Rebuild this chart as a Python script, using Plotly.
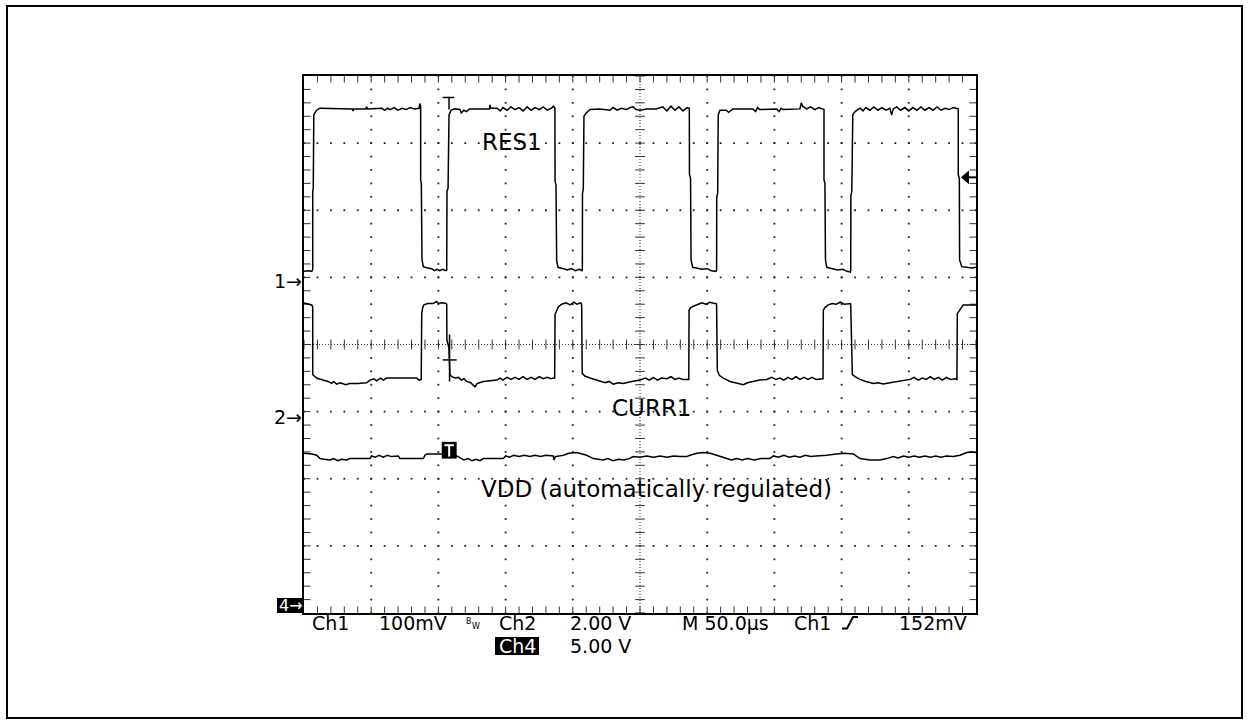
import numpy as np
import plotly.graph_objects as go

# ---------------- data (time in microseconds, amplitude in screen divisions) -------------
RES1_T = [0, 3.0, 5.8, 6.3, 6.5, 6.5, 6.9, 7.3, 8.5, 9.4, 11.9, 20, 28, 36.0, 36.5, 37.0, 46.0, 46.6, 47.2,
          58, 60, 62, 64, 67, 70, 73, 76, 79, 82, 85.6, 86.2,
          86.8, 86.8, 87.3, 87.8, 88.8, 92, 95, 97, 99, 101, 103, 105.5, 106.2,
          106.4, 107.2, 107.9, 109.4, 112, 116, 117, 119, 121, 123, 131, 138, 138.4, 139, 143.6, 146, 148, 151,
          154, 157, 160, 163, 166, 169, 172, 175, 178, 181, 184, 185.5, 186.4,
          186.7, 186.8, 187.5, 188.0, 189.0, 193, 196, 199, 202, 205, 206.8,
          207.1, 207.2, 207.8, 208.3, 210, 212.8, 220, 227.7, 230, 233, 236, 240, 242.6, 245, 247, 250, 255,
          262, 267, 270, 273, 276, 279, 282, 285, 286.4,
          286.7, 286.8, 287.6, 288.0, 289.2, 292, 296, 300, 303, 306.5,
          307.0, 307.1, 307.8, 308.2, 309.5, 314, 316, 318, 319, 334, 336, 337.5, 339, 351.7, 353.5, 355, 356.4,
          369, 370, 371, 374, 377, 380, 383, 386.4,
          386.9, 386.9, 387.6, 388.0, 389.0, 393, 397, 401, 404, 406.5,
          406.8, 406.9, 407.6, 408.3, 410, 413.7, 416, 418, 421, 424, 427, 430, 433, 436, 437.2, 438.5, 441,
          444, 447, 450, 453, 456, 459, 462, 465, 468, 471, 474, 477, 480, 483, 485, 486.5,
          486.8, 486.8, 487.6, 487.8, 489.4, 493, 497, 500]
RES1_V = [1.09, 1.10, 1.09, 1.11, 1.12, 2.28, 2.33, 3.42, 3.46, 3.49, 3.52, 3.52, 3.52, 3.51, 3.48, 3.51, 3.51, 3.54, 3.51,
          3.52, 3.49, 3.52, 3.50, 3.53, 3.49, 3.52, 3.50, 3.53, 3.51, 3.52, 3.59,
          3.55, 2.45, 2.40, 1.26, 1.16, 1.14, 1.13, 1.10, 1.12, 1.10, 1.12, 1.10, 1.11,
          2.28, 2.33, 3.42, 3.49, 3.51, 3.50, 3.45, 3.49, 3.47, 3.51, 3.51, 3.51, 3.57, 3.52, 3.52, 3.48, 3.53, 3.49,
          3.54, 3.50, 3.53, 3.48, 3.54, 3.49, 3.53, 3.50, 3.54, 3.49, 3.52, 3.55, 3.53,
          3.52, 2.43, 2.38, 1.25, 1.15, 1.13, 1.11, 1.13, 1.10, 1.12, 1.10,
          1.12, 2.25, 2.31, 3.40, 3.45, 3.50, 3.51, 3.49, 3.53, 3.49, 3.52, 3.50, 3.53, 3.54, 3.50, 3.49, 3.51,
          3.51, 3.54, 3.48, 3.55, 3.49, 3.54, 3.48, 3.53, 3.53,
          3.52, 2.53, 2.48, 1.26, 1.15, 1.14, 1.12, 1.13, 1.10, 1.09,
          1.11, 2.20, 2.25, 3.42, 3.49, 3.49, 3.46, 3.49, 3.51, 3.51, 3.47, 3.53, 3.50, 3.51, 3.47, 3.52, 3.50,
          3.51, 3.60, 3.55, 3.51, 3.54, 3.50, 3.53, 3.51,
          3.50, 2.45, 2.40, 1.26, 1.15, 1.13, 1.11, 1.12, 1.09, 1.08,
          1.10, 2.22, 2.28, 3.42, 3.47, 3.52, 3.48, 3.53, 3.49, 3.54, 3.49, 3.53, 3.49, 3.52, 3.42, 3.51, 3.54,
          3.49, 3.53, 3.48, 3.53, 3.49, 3.54, 3.49, 3.53, 3.49, 3.54, 3.49, 3.52, 3.50, 3.53, 3.52, 3.51,
          3.51, 2.53, 2.48, 1.26, 1.16, 1.15, 1.14, 1.15]

CURR1_T = [0, 3.0, 5.7, 6.3, 6.5, 6.5, 9.4, 14.1, 17.9, 20.6, 22, 24.3, 27, 31, 34, 40, 46.6, 49.1, 52, 54, 57, 59,
           61.5, 72, 83.8, 85.5, 87.2, 87.6, 88.3, 89.3, 92, 96, 98.7, 100, 103, 105.7,
           106.2, 106.3, 107.8, 108.6, 110, 112.4, 115, 117, 119, 121, 124, 127.2, 129, 133.4, 138, 143.4, 146, 148,
           151, 154, 157, 160, 163, 166, 169, 172, 175, 178, 181, 184, 185.5, 186.5,
           186.8, 189.2, 191.7, 195, 198, 201, 203, 205.9, 206.4,
           206.6, 207.0, 209, 212.8, 216, 220.2, 224, 227, 230.1, 234, 237.6, 242, 246, 250, 254, 257, 260, 263,
           266, 270, 273, 276, 279, 282, 284.7, 286.3,
           286.5, 287.7, 289.7, 293.4, 296, 299, 302, 305.3, 306.8,
           307.0, 307.5, 309, 312, 317, 322, 326.9, 330, 334.4, 339, 344.3, 348, 351, 354, 357, 360, 363, 366,
           369, 372, 375, 378, 381, 385.2, 386.2,
           386.4, 387.6, 390.1, 393, 396, 399, 402, 405.8, 406.6,
           406.8, 408.0, 410, 413.7, 418, 423.6, 427, 431.1, 436, 441, 446, 450.9, 454, 457, 460, 463, 466, 469,
           472, 475, 478, 481, 484.4, 485.8,
           486.1, 487.6, 490.5, 495, 500]
CURR1_V = [0.62, 0.61, 0.59, 0.57, 0.54, -0.45, -0.50, -0.53, -0.55, -0.58, -0.55, -0.59, -0.57, -0.60, -0.58, -0.58,
           -0.57, -0.53, -0.51, -0.54, -0.50, -0.53, -0.50, -0.50, -0.50, -0.53, -0.52, 0.46, 0.55, 0.59, 0.61, 0.61,
           0.64, 0.61, 0.62, 0.61,
           0.60, 0.07, -0.05, -0.45, -0.48, -0.50, -0.49, -0.53, -0.51, -0.55, -0.57, -0.63, -0.58, -0.55, -0.54,
           -0.53, -0.50, -0.53, -0.49, -0.52, -0.49, -0.52, -0.48, -0.52, -0.49, -0.52, -0.48, -0.51, -0.49, -0.51,
           -0.50, -0.50,
           0.45, 0.56, 0.60, 0.62, 0.59, 0.63, 0.60, 0.62, 0.61,
           0.58, -0.43, -0.47, -0.50, -0.52, -0.55, -0.57, -0.55, -0.59, -0.57, -0.58, -0.56, -0.55, -0.53, -0.50,
           -0.53, -0.49, -0.53, -0.50, -0.51, -0.48, -0.52, -0.50, -0.52, -0.52, -0.52,
           0.51, 0.55, 0.57, 0.60, 0.62, 0.60, 0.63, 0.61, 0.61,
           0.58, -0.38, -0.46, -0.50, -0.55, -0.57, -0.60, -0.57, -0.55, -0.53, -0.52, -0.49, -0.52, -0.50, -0.53,
           -0.49, -0.52, -0.48, -0.52, -0.49, -0.52, -0.49, -0.52, -0.52, -0.51,
           0.51, 0.55, 0.59, 0.61, 0.60, 0.63, 0.60, 0.61, 0.61,
           0.58, -0.45, -0.48, -0.52, -0.55, -0.58, -0.57, -0.59, -0.57, -0.55, -0.53, -0.52, -0.49, -0.53, -0.50,
           -0.52, -0.48, -0.52, -0.49, -0.53, -0.49, -0.52, -0.51, -0.52,
           0.46, 0.51, 0.59, 0.59, 0.59]

VDD_T = [0, 3.2, 6, 9.4, 11.9, 15, 19.3, 22, 25, 28, 31.7, 34.2, 49.1, 50.3, 53, 56, 59, 62, 65, 70.2, 71.4, 88.8,
         90, 91.3, 102.5, 113.6, 117.3, 119, 122, 125, 128, 131, 133.4, 148.3, 150, 153, 156, 160, 164, 168, 172,
         176, 180, 185.5, 186, 187, 193, 197, 202.9, 206, 210.3, 215.3, 219, 222.7, 226, 230, 234, 238, 242, 245,
         250, 255, 260, 265, 270, 275, 280, 284.7, 287.2, 292.2, 297, 302.1, 307, 314.5, 318, 322, 326, 330, 335,
         340, 346.7, 349.2, 353, 357, 361, 365, 369, 373, 377, 381, 384, 388.9, 396.3, 402, 408.7, 413.7, 421.1,
         428.6, 433.6, 438.5, 442, 446, 450, 454, 458, 462, 466, 470, 474, 478, 483.1, 488.1, 493.1, 496, 500]
VDD_V = [-1.62, -1.62, -1.63, -1.65, -1.70, -1.71, -1.72, -1.70, -1.73, -1.71, -1.72, -1.70, -1.70, -1.66, -1.68,
         -1.65, -1.68, -1.65, -1.67, -1.66, -1.70, -1.70, -1.65, -1.63, -1.63, -1.66, -1.70, -1.72, -1.70, -1.73,
         -1.71, -1.73, -1.70, -1.70, -1.66, -1.68, -1.65, -1.67, -1.65, -1.67, -1.65, -1.67, -1.65, -1.66, -1.72,
         -1.67, -1.65, -1.62, -1.61, -1.63, -1.65, -1.70, -1.71, -1.72, -1.70, -1.73, -1.71, -1.72, -1.70, -1.67,
         -1.68, -1.66, -1.68, -1.66, -1.68, -1.66, -1.67, -1.67, -1.65, -1.62, -1.61, -1.62, -1.65, -1.70, -1.72,
         -1.70, -1.72, -1.70, -1.72, -1.70, -1.70, -1.66, -1.68, -1.65, -1.68, -1.66, -1.68, -1.65, -1.67, -1.66,
         -1.66, -1.65, -1.63, -1.62, -1.63, -1.70, -1.72, -1.72, -1.70, -1.67, -1.69, -1.66, -1.68, -1.66, -1.68,
         -1.66, -1.68, -1.66, -1.68, -1.66, -1.67, -1.65, -1.61, -1.60, -1.61]

TRACE_LABELS = ["RES1", "CURR1", "VDD (automatically regulated)"]
LABEL_T = [154.4, 258.6, 262.3]
LABEL_V = [3.02, -0.95, -2.15]

CH_MARKERS = ["1\u2192", "2\u2192"]
CH_MARKER_V = [0.94, -1.08]

TRIG_TIME = 107.9      # trigger position (us)
TRIG_LEVEL = 2.49      # trigger level (div)

READOUT_ROW1 = ["Ch1", "100mV", "Ch2", "2.00 V", "M 50.0\u00b5s", "Ch1", "152mV"]
READOUT_ROW1_X = [330, 413, 517, 600, 725, 812, 933]
READOUT_ROW2 = ["5.00 V"]
READOUT_ROW2_X = [600]

# ---------------- geometry ----------------
W, H = 1250, 723
PL, PR, PT, PB = 304, 976, 76, 613
T_MAX, DIVS_X, DIVS_Y = 500.0, 10, 8


def px(x):
    return (x - PL) / (PR - PL)


def py(y):
    return (PB - y) / (PB - PT)


fig = go.Figure()

# graticule dots on major division lines
gx, gy = [], []
for k in range(1, DIVS_X):
    if k == 5:
        continue
    for yy in np.arange(-4, 4.001, 0.2):
        gx.append(k * 50.0)
        gy.append(yy)
for j in range(-3, 4):
    if j == 0:
        continue
    for xx in np.arange(0, 500.001, 10):
        gx.append(xx)
        gy.append(float(j))
fig.add_trace(go.Scatter(x=gx, y=gy, mode="markers", hoverinfo="skip",
                         marker=dict(symbol="square", size=1.8, color="#222", line=dict(width=0))))

# centre lines: dense dots + cross ticks
fig.add_trace(go.Scatter(x=[250, 250], y=[-4, 4], mode="lines", hoverinfo="skip",
                         line=dict(color="#333", width=1, dash="1px,2px")))
fig.add_trace(go.Scatter(x=[0, 500], y=[0, 0], mode="lines", hoverinfo="skip",
                         line=dict(color="#333", width=1, dash="1px,2px")))
cy = [v for v in np.arange(-4, 4.001, 0.2)]
fig.add_trace(go.Scatter(x=[250] * len(cy), y=cy, mode="markers", hoverinfo="skip",
                         marker=dict(symbol="line-ew", size=7, line=dict(width=1, color="#333"))))
cx = [v for v in np.arange(0, 500.001, 10)]
fig.add_trace(go.Scatter(x=cx, y=[0] * len(cx), mode="markers", hoverinfo="skip",
                         marker=dict(symbol="line-ns", size=7, line=dict(width=1, color="#333"))))

# border ticks (inside)
dy = 3.0 / (PB - PT) * DIVS_Y
dx = 3.0 / (PR - PL) * T_MAX
ex = [v for v in np.arange(10, 500, 10)]
ey = [v for v in np.arange(-3.8, 3.81, 0.2)]
fig.add_trace(go.Scatter(x=ex + ex, y=[4 - dy] * len(ex) + [-4 + dy] * len(ex), mode="markers",
                         hoverinfo="skip",
                         marker=dict(symbol="line-ns", size=5, line=dict(width=1, color="#333"))))
fig.add_trace(go.Scatter(x=[dx] * len(ey) + [500 - dx] * len(ey), y=ey + ey, mode="markers",
                         hoverinfo="skip",
                         marker=dict(symbol="line-ew", size=5, line=dict(width=1, color="#333"))))

# waveforms
for tt, vv in [(RES1_T, RES1_V), (CURR1_T, CURR1_V), (VDD_T, VDD_V)]:
    fig.add_trace(go.Scatter(x=tt, y=vv, mode="lines", hoverinfo="skip",
                             line=dict(color="black", width=1.5)))

shapes = []
# trigger "T" on RES1
shapes.append(dict(type="line", xref="x", yref="y", x0=TRIG_TIME - 4.7, x1=TRIG_TIME + 3.9,
                   y0=3.68, y1=3.68, line=dict(color="black", width=1.5)))
shapes.append(dict(type="line", xref="x", yref="y", x0=TRIG_TIME, x1=TRIG_TIME,
                   y0=3.68, y1=3.50, line=dict(color="black", width=1.5)))
# cross on CURR1
shapes.append(dict(type="line", xref="x", yref="y", x0=TRIG_TIME - 4.7, x1=TRIG_TIME + 5.7,
                   y0=-0.23, y1=-0.23, line=dict(color="black", width=1.5)))
shapes.append(dict(type="line", xref="x", yref="y", x0=TRIG_TIME + 0.4, x1=TRIG_TIME + 0.4,
                   y0=0.15, y1=-0.55, line=dict(color="black", width=1.5)))
# black T box on VDD
shapes.append(dict(type="rect", xref="x", yref="y", x0=TRIG_TIME - 5.4, x1=TRIG_TIME + 5.7,
                   y0=-1.70, y1=-1.45, fillcolor="black", line=dict(width=0)))
shapes.append(dict(type="line", xref="x", yref="y", x0=TRIG_TIME - 3.4, x1=TRIG_TIME + 3.6,
                   y0=-1.50, y1=-1.50, line=dict(color="white", width=2)))
shapes.append(dict(type="line", xref="x", yref="y", x0=TRIG_TIME + 0.1, x1=TRIG_TIME + 0.1,
                   y0=-1.50, y1=-1.67, line=dict(color="white", width=2)))
# trigger level arrow on right edge
shapes.append(dict(type="path", xref="x", yref="y",
                   path=f"M 489.3,{TRIG_LEVEL} L 494.4,{TRIG_LEVEL + 0.09} L 494.4,{TRIG_LEVEL - 0.09} Z",
                   fillcolor="black", line=dict(color="black", width=1)))
shapes.append(dict(type="line", xref="x", yref="y", x0=494, x1=500, y0=TRIG_LEVEL, y1=TRIG_LEVEL,
                   line=dict(color="black", width=2)))
# channel-4 marker box
shapes.append(dict(type="rect", xref="paper", yref="paper", x0=px(277), x1=px(304), y0=py(613), y1=py(598),
                   fillcolor="black", line=dict(width=0)))
# Ch4 inverse box
shapes.append(dict(type="rect", xref="paper", yref="paper", x0=px(495), x1=px(539), y0=py(655), y1=py(637),
                   fillcolor="black", line=dict(width=0)))
# rising-edge trigger symbol
shapes.append(dict(type="path", xref="paper", yref="paper",
                   path=(f"M {px(842)},{py(628.5)} L {px(847)},{py(628.5)} L {px(853)},{py(617)} "
                         f"L {px(858)},{py(617)}"),
                   line=dict(color="black", width=2)))
# outer frame
shapes.append(dict(type="rect", xref="paper", yref="paper", x0=px(7), x1=px(1242), y0=py(718), y1=py(6),
                   line=dict(color="black", width=2), fillcolor="rgba(0,0,0,0)"))

annotations = []


def ann(x, y, text, size, color="black", xref="paper", yref="paper", xanchor="center"):
    annotations.append(dict(x=x, y=y, xref=xref, yref=yref, text=text, showarrow=False,
                            xanchor=xanchor, yanchor="middle",
                            font=dict(family="DejaVu Sans", size=size, color=color)))


for txt, t, v in zip(TRACE_LABELS, LABEL_T, LABEL_V):
    ann(t, v, txt, 23, xref="x", yref="y")
for txt, v in zip(CH_MARKERS, CH_MARKER_V):
    ann(px(304), v, txt, 19, yref="y", xanchor="right")
ann(px(290.5), py(605.5), "4\u2192", 16, color="white")
for txt, x in zip(READOUT_ROW1, READOUT_ROW1_X):
    ann(px(x), py(622.5), txt, 19)
for txt, x in zip(READOUT_ROW2, READOUT_ROW2_X):
    ann(px(x), py(646), txt, 19)
ann(px(517), py(646), "Ch4", 19, color="white")
ann(px(468.5), py(621), "B", 8)
ann(px(475.5), py(626.5), "W", 8)

axis_common = dict(showgrid=False, zeroline=False, showticklabels=False, ticks="",
                   showline=True, mirror=True, linecolor="black", linewidth=2, fixedrange=True)
fig.update_layout(
    width=W, height=H, autosize=False,
    margin=dict(l=PL, r=W - PR, t=PT, b=H - PB, pad=0),
    paper_bgcolor="white", plot_bgcolor="white",
    showlegend=False,
    xaxis=dict(range=[0, T_MAX], **axis_common),
    yaxis=dict(range=[-4, 4], **axis_common),
    shapes=shapes, annotations=annotations,
)

fig.write_html("out.html", config={"displayModeBar": False},
               post_script="document.body.style.margin='0';document.body.style.overflow='hidden';")
